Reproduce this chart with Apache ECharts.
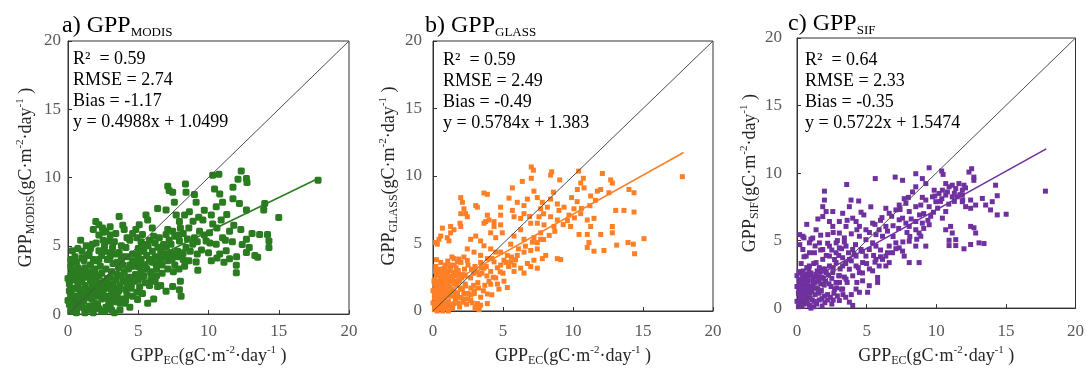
<!DOCTYPE html>
<html>
<head>
<meta charset="utf-8">
<script src="https://cdn.jsdelivr.net/npm/echarts@6/dist/echarts.min.js"></script>
<style>
  html, body { margin: 0; padding: 0; background: #fff; }
  #chart { width: 1087px; height: 372px; }
</style>
</head>
<body>
<div id="chart"></div>
<script>
// axis range shared by all three panels
const AXIS_MIN = 0
const AXIS_MAX = 20
const AXIS_STEP = 5

// 1:1 reference line
const oneToOne = [[0, 0], [20, 20]]

// fitted lines, end points
const modisFit = [[0, 1.05], [17.8, 9.93]]
const glassFit = [[0, 1.38], [17.9, 11.74]]
const sifFit = [[0, 1.55], [17.9, 11.79]]

// statistics text
const modisStats = ['R\u00B2  = 0.59', 'RMSE = 2.74', 'Bias = -1.17', 'y = 0.4988x + 1.0499']
const glassStats = ['R\u00B2  = 0.59', 'RMSE = 2.49', 'Bias = -0.49', 'y = 0.5784x + 1.383']
const sifStats = ['R\u00B2  = 0.64', 'RMSE = 2.33', 'Bias = -0.35', 'y = 0.5722x + 1.5474']

// a) GPP_MODIS vs GPP_EC
const modisData = [
  [17.8,9.8],[12.33,10.48],[10.3,10.17],[10.74,10.24],[12.7,9.93],[12.74,9.64],[12.1,9.88],[8.36,9.52],[7.1,9.36],[7.2,9.05],
  [7.45,8.93],[8.4,8.93],[9.0,8.76],[11.74,9.29],[10.43,9.17],[14.0,8.1],[13.93,7.62],[15.0,7.07],[12.7,7.62],[12.2,8.1],
  [11.74,8.45],[10.8,8.8],[11.0,8.2],[10.55,7.86],[10.2,7.26],[9.6,6.9],[9.12,8.2],[8.64,7.5],[8.3,7.26],[7.57,8.2],
  [7.7,7.26],[7.93,6.79],[6.38,7.74],[6.98,7.62],[5.55,7.26],[5.67,6.9],[3.64,7.14],[1.98,6.79],[2.2,6.55],[2.45,6.3],
  [2.7,6.07],[4.0,6.19],[4.83,6.19],[13.64,5.83],[14.2,5.83],[14.3,5.36],[14.3,4.88],[12.7,5.48],[12.9,4.88],[12.7,4.52],
  [13.5,4.17],[11.98,3.57],[11.98,3.02],[11.5,4.05],[11.26,4.64],[10.8,4.4],[10.55,5.12],[11.0,5.6],[11.5,6.07],[9.83,5.36],
  [10.07,5.95],[9.36,6.07],[8.88,5.12],[8.4,4.88],[7.93,5.36],[7.33,5.12],[6.98,4.4],[6.5,4.17],[6.26,3.69],[9.12,3.81],
  [9.24,3.21],[7.93,1.79],[8.05,1.31],[7.45,2.02],[6.98,1.67],[6.38,2.02],[5.67,0.79],[4.95,1.07],[5.9,2.98],[5.3,2.74],
  [5.07,3.45],[4.12,4.88],[3.64,4.52],[2.93,5.36],[3.17,4.88],[1.74,5.12],[2.2,4.64],[1.5,4.4],[1.14,3.93],[0.55,3.21],
  [0.31,4.64],[0.43,3.81],[5.07,6.55],[5.3,5.83],[6.0,6.3],[6.5,5.6],[6.98,5.83],[7.45,6.07],
  [8.2,5.9],[8.6,6.3],[9.0,5.6],[9.5,4.7],[10.0,4.5],[10.3,6.6],[10.9,6.9],[11.3,7.3],[11.8,6.5],[12.3,6.2],
  [12.4,5.1],[11.7,5.3],[10.6,4.1],[10.2,3.9],[11.1,3.8],[12.0,4.2],[13.1,5.9],[13.3,4.3],[9.7,7.6],[9.3,7.1],
  [8.9,6.8],[8.0,6.3],[7.6,5.7],[7.2,5.4],[6.8,5.1],[6.4,4.9],[6.0,4.6],[5.6,4.3],[5.2,4.0],[4.8,3.8],
  [4.4,3.6],[4.6,4.4],[5.0,4.8],[5.4,5.1],[5.8,5.4],[6.2,5.2],[6.6,4.6],[7.0,4.9],[7.4,4.5],[7.8,4.2],
  [8.2,4.0],[8.6,3.9],[7.6,3.6],[7.1,3.3],[6.7,3.0],[6.3,2.8],[5.9,2.5],[5.5,2.3],[5.1,2.0],[4.7,2.4],
  [4.3,2.7],[4.0,3.1],[3.6,3.4],[3.2,3.7],[2.8,4.0],[2.4,4.3],[2.0,3.9],[1.6,3.6],[1.2,3.4],[0.8,2.9],
  [0.5,4.2],[0.2,3.5],[1.0,4.6],[1.3,5.0],[2.6,5.0],[3.4,5.9],[3.0,6.4],[4.4,5.4],[4.9,5.6],[3.9,4.2],
  [3.5,2.9],[3.9,2.4],[4.5,1.9],[5.3,1.5],[6.1,1.1],[4.2,1.4],[3.6,1.7],[3.2,2.2],[2.8,2.6],[2.4,3.0],
  [2.0,2.7],[1.6,2.4],[1.2,2.1],[0.8,1.8],[0.4,2.5],[0.1,2.2],[0.2,1.4],[0.6,1.0],[1.0,0.6],[1.4,0.3],
  [1.8,0.1],[2.2,0.4],[2.6,0.2],[3.0,0.5],[3.4,0.9],[3.8,1.1],[2.9,1.3],[2.5,1.6],[2.1,1.9],[1.7,1.5],
  [1.3,1.2],[0.9,0.9],[0.5,0.5],[0.2,0.2],[0.1,0.7],[0.3,1.8],[0.7,2.2],[1.1,2.8],[1.5,3.1],[1.9,3.3],
  [2.3,2.3],[2.7,1.9],[3.1,1.6],[3.5,1.3],[4.0,0.8],[4.4,0.5],[3.7,0.3],[3.3,0.1],[2.9,0.8],[2.4,1.1],
  [1.9,0.8],[1.5,1.8],[0.4,3.0],[0.0,1.0],[0.0,2.6],[0.6,0.1],[1.2,0.1],[2.0,1.3],[1.0,1.5],[0.3,0.9],
  [4.8,2.9],[5.6,3.3],[6.0,3.8],[5.2,3.1],[8.0,2.4],[3.0,4.5],[2.2,5.8],[1.8,6.2],[0.9,5.4],
  [0.3,0.4],[0.6,0.3],[0.9,0.5],[1.2,0.4],[1.5,0.6],[1.8,0.4],[2.1,0.7],[2.4,0.2],[2.7,0.5],[3.1,0.3],
  [0.2,1.1],[0.5,1.3],[0.8,1.2],[1.1,1.0],[1.4,1.4],[1.7,1.1],[2.0,1.5],[2.3,1.4],[2.6,1.2],[3.0,1.0],
  [3.3,1.3],[3.7,0.8],[4.1,1.0],[4.6,1.3],[0.1,1.7],[0.5,1.9],[0.9,1.6],[1.3,1.7],[1.7,2.0],[2.1,2.2],
  [2.5,2.0],[2.9,2.1],[3.3,1.9],[3.7,2.1],[4.1,1.8],[4.5,2.2],[4.9,1.6],[0.2,2.8],[0.6,2.6],[1.0,2.4],
  [1.4,2.7],[1.8,2.5],[2.2,2.8],[2.6,2.4],[3.0,2.7],[3.4,2.5],[3.8,2.8],[4.2,2.3],[4.6,2.7],[5.0,2.5],
  [5.4,2.8],[5.8,2.1],[6.2,2.4],[6.6,2.1],[0.3,3.2],[0.7,3.4],[1.1,3.2],[1.5,2.9],[1.9,3.0],[2.3,3.5],
  [2.7,3.3],[3.1,3.1],[3.5,3.8],[3.9,3.6],[4.3,3.3],[4.7,3.5],[5.1,3.7],[5.5,3.6],[5.9,3.1],[6.3,3.3],
  [6.7,3.6],[7.1,3.9],[7.5,3.1],[7.9,3.3],[8.3,3.5],[0.2,4.0],[0.6,3.8],[1.0,4.1],[1.4,4.3],[1.8,4.0],
  [2.2,4.0],[2.6,4.6],[3.0,4.2],[3.4,4.4],[3.8,4.0],[4.2,4.2],[4.6,3.9],[5.0,4.3],[5.4,4.6],[5.8,4.0],
  [6.2,4.2],[6.6,4.0],[7.0,4.2],[7.4,4.0],[7.8,4.6],[8.2,4.5],[8.7,4.6],[9.2,4.4],[0.7,4.8],[1.6,4.8],
  [2.0,5.2],[2.5,5.4],[3.3,5.3],[3.8,5.0],[4.2,5.6],[5.2,5.3],[5.7,5.0],[6.1,5.7],[7.1,6.2],[7.9,5.8],
  [8.5,5.5],[9.2,5.3],[9.7,5.8],[10.1,5.2],[10.6,6.3],[11.2,5.4],[3.0,5.8],[2.5,6.0],[4.6,5.9],[3.9,6.5]
]

// b) GPP_GLASS vs GPP_EC
const glassData = [
  [17.81,9.95],[7.02,10.67],[7.17,10.43],[8.48,10.31],[8.4,10.07],[9.05,9.71],[10.4,10.36],[6.38,9.6],[7.02,9.83],[10.74,9.83],
  [10.55,9.48],[10.79,9.12],[10.31,9.0],[12.1,10.19],[12.69,9.71],[12.81,9.48],[12.57,8.76],[11.98,9.0],[11.74,8.88],[11.26,8.52],
  [14.0,9.0],[14.36,8.76],[13.05,7.45],[13.64,7.45],[14.36,7.33],[15.07,5.36],[13.93,5.07],[14.31,4.95],[14.4,4.24],[13.12,4.88],
  [12.21,4.48],[11.5,4.43],[11.02,4.71],[11.14,5.07],[10.43,5.67],[11.02,5.67],[11.98,5.67],[12.81,5.79],[12.81,6.26],[11.26,6.26],
  [11.5,6.86],[11.02,6.74],[10.55,7.21],[9.83,6.26],[9.71,7.1],[10.07,7.57],[9.36,7.69],[8.88,7.93],[8.88,6.74],[9.0,7.45],
  [8.4,6.98],[8.64,6.26],[7.93,6.38],[7.69,5.79],[7.21,5.43],[7.45,5.07],[8.88,3.88],[9.12,3.81],[8.05,4.12],[7.81,3.88],
  [7.21,3.76],[7.45,3.17],[6.98,3.29],[6.74,3.52],[6.26,3.17],[5.79,2.93],[6.5,2.81],[6.02,4.12],[6.5,4.36],[6.98,4.48],
  [7.45,4.6],[7.69,5.31],[5.79,5.55],[6.26,6.02],[6.5,5.31],[5.55,4.95],[7.45,6.5],[6.98,6.5],[7.57,6.98],[7.69,7.57],
  [8.17,7.69],[8.4,8.29],[7.81,8.05],[7.21,8.88],[7.45,8.4],[6.74,8.29],[6.5,7.81],[6.02,8.05],[5.67,7.45],[5.79,6.98],
  [6.26,6.86],[6.5,7.21],[5.43,8.36],[5.67,9.12],[4.83,7.69],[4.83,7.1],[4.36,6.26],[3.64,6.5],[3.76,6.62],[4.36,6.62],
  [4.83,6.38],[4.95,5.79],[4.12,5.79],[4.48,5.43],[3.64,8.74],[3.88,8.64],[3.05,7.81],[3.17,7.69],[3.88,7.1],[4.0,6.74],
  [1.98,8.4],[2.1,8.05],[2.21,7.57],[1.98,7.21],[2.33,7.21],[2.45,6.98],[1.93,6.5],[1.98,6.26],[1.5,6.02],[1.26,5.79],
  [0.55,5.55],[0.43,5.31],[0.31,4.95],[1.02,5.43],[1.14,5.19],[0.67,6.14],[1.26,6.26],[0.19,5.07],
  [2.69,5.31],[3.05,5.55],[3.4,5.19],[3.64,4.83],[4.12,4.6],[4.48,4.36],[4.83,4.36],[5.31,4.12],[5.07,3.76],[5.55,3.64],
  [5.79,3.4],[4.83,3.4],[4.36,3.64],[3.88,3.88],[3.4,4.12],[2.93,4.36],[2.45,4.6],[2.21,4.0],[1.74,3.64],[1.5,3.88],
  [1.26,3.4],[0.79,3.17],[1.02,2.93],[1.74,2.93],[2.21,2.69],[2.69,2.45],[3.29,2.69],[3.64,3.17],[4.12,2.93],[4.48,2.45],
  [5.07,2.21],[5.31,1.74],[4.71,1.62],[4.12,1.98],[3.88,1.26],[3.4,1.02],[2.93,1.5],[2.33,1.86],[1.86,2.21],[1.38,2.45],
  [0.79,2.57],[0.55,2.21],[0.31,1.98],[0.79,1.5],[1.26,1.26],[1.74,1.02],[2.21,0.9],[2.69,0.79],[3.17,0.55],[3.4,0.43],
  [3.88,0.55],[3.05,0.31],[1.5,0.55],[1.02,0.43],[0.55,0.79],[0.31,1.02],[0.19,0.55],[0.43,0.31],[0.79,0.19],[1.26,0.19],
  [0.07,1.5],[0.07,2.21],[0.19,2.93],
  [0.1,0.1],[0.2,0.4],[0.3,0.8],[0.4,1.2],[0.5,1.6],[0.6,2.0],[0.7,2.4],[0.8,2.8],[0.1,1.0],[0.2,1.8],
  [0.3,2.6],[0.4,0.2],[0.6,0.6],[0.8,1.0],[1.0,1.4],[1.2,1.8],[1.4,2.2],[1.6,2.6],[1.8,3.0],[0.9,0.3],
  [1.1,0.7],[1.3,1.1],[1.5,1.5],[1.7,1.9],[1.9,2.3],[2.1,1.6],[2.3,2.0],[2.5,1.3],[2.7,1.7],[1.4,0.2],
  [1.8,0.6],[2.0,1.0],[2.4,0.5],[0.5,2.9],[0.2,3.3],[0.9,3.4],[1.2,3.0],[0.7,1.3],[1.0,2.0],[1.2,2.5],
  [0.4,1.9],[0.1,2.3],[0.0,0.6],[0.0,1.5],[0.3,0.0],[0.7,0.0],[1.1,0.0],[1.6,1.0],[2.2,1.3],[2.9,1.9],
  [3.2,2.1],[3.6,1.5],[4.2,1.2],[3.0,0.2],[3.3,0.1],[2.8,0.6],[1.5,3.4],[2.0,3.6],[2.5,3.4],[3.0,3.3],
  [3.4,3.6],[3.8,3.3],[4.2,3.9],[4.6,3.2],[5.0,2.8],[5.4,3.3],[5.9,3.8],[4.0,2.2],[4.6,2.0],[3.5,2.8],
  [2.9,2.8],[2.3,2.6],
  [0.15,0.3],[0.35,0.5],[0.55,0.2],[0.75,0.45],[0.95,0.6],[0.25,0.7],[0.45,0.95],[0.65,0.85],[0.85,1.25],[1.05,1.1],
  [0.15,1.3],[0.35,1.5],[0.55,1.35],[0.75,1.75],[0.95,1.65],[1.15,1.4],[1.35,1.6],[1.55,1.2],[1.75,1.35],[1.95,1.7],
  [0.15,2.0],[0.35,2.2],[0.55,2.5],[0.75,2.05],[0.95,2.3],[1.15,2.15],[1.35,2.55],[1.55,2.0],[1.75,2.2],[2.05,2.45],
  [0.25,2.7],[0.45,3.1],[0.65,2.75],[0.85,3.05],[1.05,2.65],[1.25,3.25],[1.45,2.85],[1.65,3.2],[1.95,2.7],[2.25,3.1],
  [0.25,3.8],[0.55,3.6],[1.05,3.7],[1.35,4.0],[1.85,3.85],[2.45,3.75],[2.75,3.1],[3.15,2.9],[3.45,3.2],[3.85,2.6],
  [1.25,0.45],[1.6,0.75],[1.9,0.3],[2.15,0.65],[2.5,0.9],[2.7,1.2],[2.95,1.3],[3.25,1.7],[3.7,1.9],[4.3,2.5],
  [4.8,2.9],[5.2,3.6],[5.6,4.0],[6.1,4.6],[6.6,4.8],[7.1,5.1],[7.9,5.3],[8.3,5.6],[8.7,5.9],[9.3,6.4],
  [9.6,6.7],[10.1,6.9],[10.6,7.6],[11.2,7.8],[11.6,8.2],[9.9,8.4],[10.3,8.1],[8.6,8.8],[7.9,7.2],[6.9,7.0]
]

// c) GPP_SIF vs GPP_EC
const sifData = [
  [17.84,8.66],[9.49,10.39],[10.39,10.15],[10.49,9.9],[12.54,10.32],[12.35,10.07],[12.7,9.7],[12.7,9.46],[8.53,9.95],[9.0,9.59],
  [9.25,9.22],[8.53,8.98],[7.05,9.7],[7.58,9.46],[5.62,9.59],[3.57,9.15],[1.97,8.66],[10.68,9.22],[10.92,8.98],[11.15,9.1],
  [11.4,8.85],[11.63,9.22],[11.87,8.73],[11.99,9.1],[10.44,8.73],[10.2,8.49],[10.68,8.37],[11.15,8.24],[11.51,8.24],[11.87,8.37],
  [9.85,8.73],[9.73,8.24],[9.97,7.88],[9.49,7.51],[9.25,8.0],[8.89,7.63],[14.26,9.1],[14.38,8.32],[14.02,7.88],[13.9,7.27],
  [14.38,6.9],[15.02,6.95],[13.31,8.12],[13.55,7.63],[12.83,7.63],[12.47,7.39],[12.47,8.0],[12.11,7.51],[11.87,7.88],[12.71,5.95],
  [12.83,5.56],[12.47,6.05],[13.07,4.83],[13.43,4.78],[12.47,4.71],[11.99,4.39],[11.4,4.63],[10.92,4.63],[10.92,5.02],[11.4,5.07],
  [11.15,5.56],[11.03,6.05],[10.68,5.8],[10.44,6.66],[10.68,7.15],[8.53,6.41],[9.0,6.29],[9.49,6.17],[8.53,5.8],[8.06,6.05],
  [7.82,6.29],[7.58,6.66],[7.34,6.54],[8.06,7.15],[8.53,7.51],[7.82,7.76],[7.34,7.63],[7.1,7.27],[6.62,7.02],[6.38,7.39],
  [8.77,5.56],[8.89,5.32],[8.06,4.95],[8.53,4.59],[9.25,4.59],[8.06,3.37],[8.77,3.37],[6.62,4.59],[7.1,4.83],[7.34,4.46],
  [7.58,4.22],[7.7,3.85],[6.86,4.1],[6.38,3.85],[6.14,3.61],[6.62,3.37],[5.67,3.61],[5.9,3.12],[6.38,3.12],[5.43,2.76],
  [5.79,2.27],[5.79,1.9],[5.19,1.66],[5.07,1.17],[4.71,2.02],[6.38,6.05],[5.9,5.8],[5.67,5.44],[6.14,5.32],[5.43,4.83],
  [5.67,4.59],[5.19,4.34],[4.95,5.07],[4.48,5.32],[4.95,5.8],[5.43,6.29],[4.48,6.05],[4.24,6.41],[4.0,6.66],[3.76,7.51],
  [3.28,7.02],[2.57,7.15],[2.09,7.15],[1.85,6.78],[2.33,6.41],[3.04,6.41],[3.52,6.05],[1.97,8.0],[1.85,7.51],[3.88,8.0],
  [4.43,7.93],[2.57,6.05],[3.04,5.56],[2.21,5.44],[1.37,5.8],[1.13,5.19],[1.61,4.83],[0.89,4.83],[0.42,5.32],[0.19,5.44],
  [0.42,4.34],[0.66,3.85],[1.25,4.1],[1.85,4.34],[2.33,4.59],[2.81,4.83],[3.04,4.46],[3.52,4.59],[4.0,4.34],[4.24,3.85],
  [3.76,3.61],[3.28,3.73],[2.81,4.1],[2.33,3.85],[1.85,3.61],[1.37,3.37],[0.89,3.12],[2.81,3.37],[3.28,3.12],[3.76,2.88],
  [4.24,3.12],[4.71,3.37],[4.95,3.85],[4.6,4.34],[2.33,3.12],[1.85,2.88],[2.57,2.63],[3.04,2.39],[3.52,2.15],[4.0,2.39],
  [4.48,2.63],
  [0.1,0.1],[0.2,0.5],[0.3,0.9],[0.4,1.3],[0.5,1.7],[0.6,2.1],[0.7,2.5],[0.1,1.1],[0.2,1.9],[0.3,2.6],
  [0.5,0.3],[0.7,0.7],[0.9,1.1],[1.1,1.5],[1.3,1.9],[1.5,2.3],[1.7,2.7],[0.9,0.2],[1.1,0.6],[1.3,1.0],
  [1.5,1.4],[1.7,1.8],[1.9,2.2],[2.1,2.6],[2.3,1.8],[2.5,2.2],[2.7,1.4],[2.2,1.0],[1.8,0.7],[1.4,0.3],
  [2.0,0.4],[2.4,0.8],[2.8,1.9],[3.0,2.4],[0.0,0.5],[0.0,1.6],[0.0,2.4],[0.4,2.3],[0.8,2.0],[1.0,2.6],
  [1.2,2.3],[1.6,1.2],[0.6,1.2],[0.8,1.6],[0.2,0.2],[1.0,0.0],[1.2,0.1],[0.4,0.6],[2.6,0.6],[3.2,1.4],
  [3.6,1.9],[3.3,1.0],[2.9,0.9],[3.04,0.56],[3.76,0.44],[4.0,0.2],[3.28,1.41],[4.24,1.41],[4.48,1.17],[0.3,3.3],
  [0.7,3.0],[1.2,3.3],[1.6,3.0],[2.0,2.9],[2.6,3.0],[3.1,2.9],[3.5,3.3],[3.9,3.5],[4.4,3.0],[5.0,3.3],
  [5.5,3.9],[6.0,4.3],[4.7,4.2],[4.2,4.7],[3.7,4.1],[3.2,4.4],[2.7,3.6],
  [6.9,5.3],[7.3,5.9],[7.9,5.6],[8.2,6.6],[8.8,6.9],[9.1,7.0],[9.6,6.8],[10.1,7.4],[10.4,8.1],[10.9,7.7],
  [11.3,7.9],[11.7,8.4],[12.1,8.9],[9.9,8.3],[9.0,8.2],[8.3,8.6],[7.7,8.1],[6.9,6.1],[6.5,5.7],[6.1,6.7],
  [5.6,6.2],[5.2,5.6],[4.8,6.9],[4.3,5.8],[3.9,5.5],[3.4,5.2],[2.9,5.0],[2.5,4.3],[2.1,3.9],[1.7,4.3],
  [1.3,4.6],[0.9,4.1],[0.5,3.8],[0.2,4.7],[0.5,5.2],[1.0,5.1],
  [0.15,0.3],[0.35,0.15],[0.55,0.55],[0.75,0.35],[0.95,0.75],[0.25,0.75],[0.45,1.0],[0.65,0.9],[0.85,1.35],[1.05,1.2],
  [0.15,1.4],[0.35,1.6],[0.55,1.4],[0.75,1.8],[0.95,1.6],[1.15,1.8],[1.35,1.5],[1.55,1.1],[1.75,1.3],[1.95,1.7],
  [0.15,2.1],[0.35,2.05],[0.55,2.4],[0.75,2.2],[0.95,2.4],[1.15,2.1],[1.35,2.5],[1.55,2.0],[1.75,2.3],[2.05,2.0],
  [0.15,2.7],[0.45,2.75],[0.85,2.8],[1.45,2.75],[2.25,2.45],[2.45,1.6],[2.65,1.1],[2.85,1.5],[3.05,1.9],[3.4,2.3],
  [1.25,0.5],[1.6,0.6],[1.95,0.9],[2.2,0.6],[2.5,0.3],[1.8,0.15],[3.5,0.8],[3.9,1.0],[4.3,1.9],[4.7,2.6],
  [5.2,2.9],[5.6,3.4],[6.0,3.8],[6.5,4.1],[7.1,4.4],[7.6,4.9],[8.1,5.3],[8.6,5.1],[9.1,5.9],[9.4,6.5],
  [9.8,7.1],[10.3,7.9],[10.8,8.6],[11.3,8.5],[11.9,8.0],[3.0,3.9],[3.4,4.9],[2.2,4.8],[1.7,5.4],[2.6,5.6],
  [3.6,6.5],[4.6,7.1],[5.3,7.5],[6.0,6.5],[6.8,6.8],[7.4,7.3],[8.0,8.2],[1.5,6.6],[0.7,6.2],[4.1,4.0]
]

const SERIF = 'Liberation Serif'
const NAME_COLOR = '#262626'
const LABEL_COLOR = '#595959'

const richText = {
  b: { fontFamily: SERIF, fontSize: 18, color: NAME_COLOR, lineHeight: 22 },
  s: { fontFamily: SERIF, fontSize: 12, color: NAME_COLOR, lineHeight: 13, verticalAlign: 'bottom' },
  p: { fontFamily: SERIF, fontSize: 11, color: NAME_COLOR, lineHeight: 13, verticalAlign: 'top' }
}

const tickRich = {
  t: { fontFamily: SERIF, fontSize: 17, color: LABEL_COLOR }
}

const unitName = (sub) => `{b|GPP}{s|${sub}}{b|(gC·m}{p|-2}{b|·day}{p|-1}{b| )}`

const panels = [
  { tag: 'a) GPP', sub: 'MODIS', data: modisData, fit: modisFit, stats: modisStats, color: '#2B7C20', size: 7, symbol: 'roundRect',
    grid: { left: 68, top: 41, width: 281, height: 277 }, xMargin: 9, yMargin: 7, xGap: 24, yGap: 31,
    title: { left: 62, top: 13 }, text: { left: 73, top: 50 } },
  { tag: 'b) GPP', sub: 'GLASS', data: glassData, fit: glassFit, stats: glassStats, color: '#FF7F27', size: 5, symbol: 'rect',
    grid: { left: 433, top: 41, width: 280, height: 277 }, xMargin: 12, yMargin: 11, xGap: 34, yGap: 33,
    title: { left: 425, top: 13 }, text: { left: 443, top: 51 } },
  { tag: 'c) GPP', sub: 'SIF', data: sifData, fit: sifFit, stats: sifStats, color: '#7030A0', size: 5, symbol: 'rect',
    grid: { left: 797, top: 38, width: 280, height: 275 }, xMargin: 15, yMargin: 15, xGap: 36, yGap: 35,
    title: { left: 788, top: 11 }, text: { left: 805, top: 51 } }
]

const chart = echarts.init(document.getElementById('chart'))

const option = {
  animation: false,
  backgroundColor: '#fff',
  title: panels.map(p => ({
    left: p.title.left,
    top: p.title.top,
    padding: 0,
    text: `{m|${p.tag}}{s|${p.sub}}`,
    textStyle: {
      fontWeight: 'normal',
      rich: {
        m: { fontFamily: SERIF, fontSize: 24, fontWeight: 'normal', color: '#000', lineHeight: 26 },
        s: { fontFamily: SERIF, fontSize: 13, fontWeight: 'normal', color: '#000', lineHeight: 12, verticalAlign: 'bottom' }
      }
    }
  })),
  grid: panels.map(p => ({
    ...p.grid,
    show: true,
    borderColor: '#333',
    borderWidth: 1,
    backgroundColor: 'transparent'
  })),
  xAxis: panels.map((p, i) => ({
    type: 'value',
    gridIndex: i,
    min: AXIS_MIN,
    max: AXIS_MAX,
    interval: AXIS_STEP,
    axisLine: { show: true, lineStyle: { color: '#333' } },
    axisTick: { show: true, inside: true, length: 4, lineStyle: { color: '#333' } },
    splitLine: { show: false },
    axisLabel: { formatter: '{t|{value}}', rich: tickRich, margin: p.xMargin },
    name: unitName('EC'),
    nameLocation: 'middle',
    nameGap: p.xGap,
    nameTextStyle: { rich: richText }
  })),
  yAxis: panels.map((p, i) => ({
    type: 'value',
    gridIndex: i,
    min: AXIS_MIN,
    max: AXIS_MAX,
    interval: AXIS_STEP,
    axisLine: { show: true, lineStyle: { color: '#333' } },
    axisTick: { show: true, inside: true, length: 4, lineStyle: { color: '#333' } },
    splitLine: { show: false },
    axisLabel: { formatter: '{t|{value}}', rich: tickRich, margin: p.yMargin },
    name: unitName(p.sub),
    nameLocation: 'middle',
    nameRotate: 90,
    nameGap: p.yGap,
    nameTextStyle: { rich: richText }
  })),
  graphic: panels.map(p => ({
    type: 'text',
    left: p.text.left,
    top: p.text.top,
    z: 10,
    style: {
      text: p.stats.map(s => `{r|${s}}`).join('\n'),
      rich: { r: { fontFamily: SERIF, fontSize: 18, lineHeight: 21, fill: '#000', color: '#000' } },
      fill: '#000'
    }
  })),
  series: panels.flatMap((p, i) => [
    {
      type: 'scatter',
      xAxisIndex: i,
      yAxisIndex: i,
      data: p.data,
      symbol: p.symbol,
      symbolSize: p.size,
      itemStyle: { color: p.color, opacity: 1 },
      z: 2,
      silent: true
    },
    {
      type: 'line',
      xAxisIndex: i,
      yAxisIndex: i,
      data: oneToOne,
      symbol: 'none',
      lineStyle: { color: '#4d4d4d', width: 1 },
      z: 3,
      silent: true
    },
    {
      type: 'line',
      xAxisIndex: i,
      yAxisIndex: i,
      data: p.fit,
      symbol: 'none',
      lineStyle: { color: p.color, width: 1.6 },
      z: 4,
      silent: true
    }
  ])
}

chart.setOption(option)
window.addEventListener('resize', () => chart.resize())
</script>
</body>
</html>
